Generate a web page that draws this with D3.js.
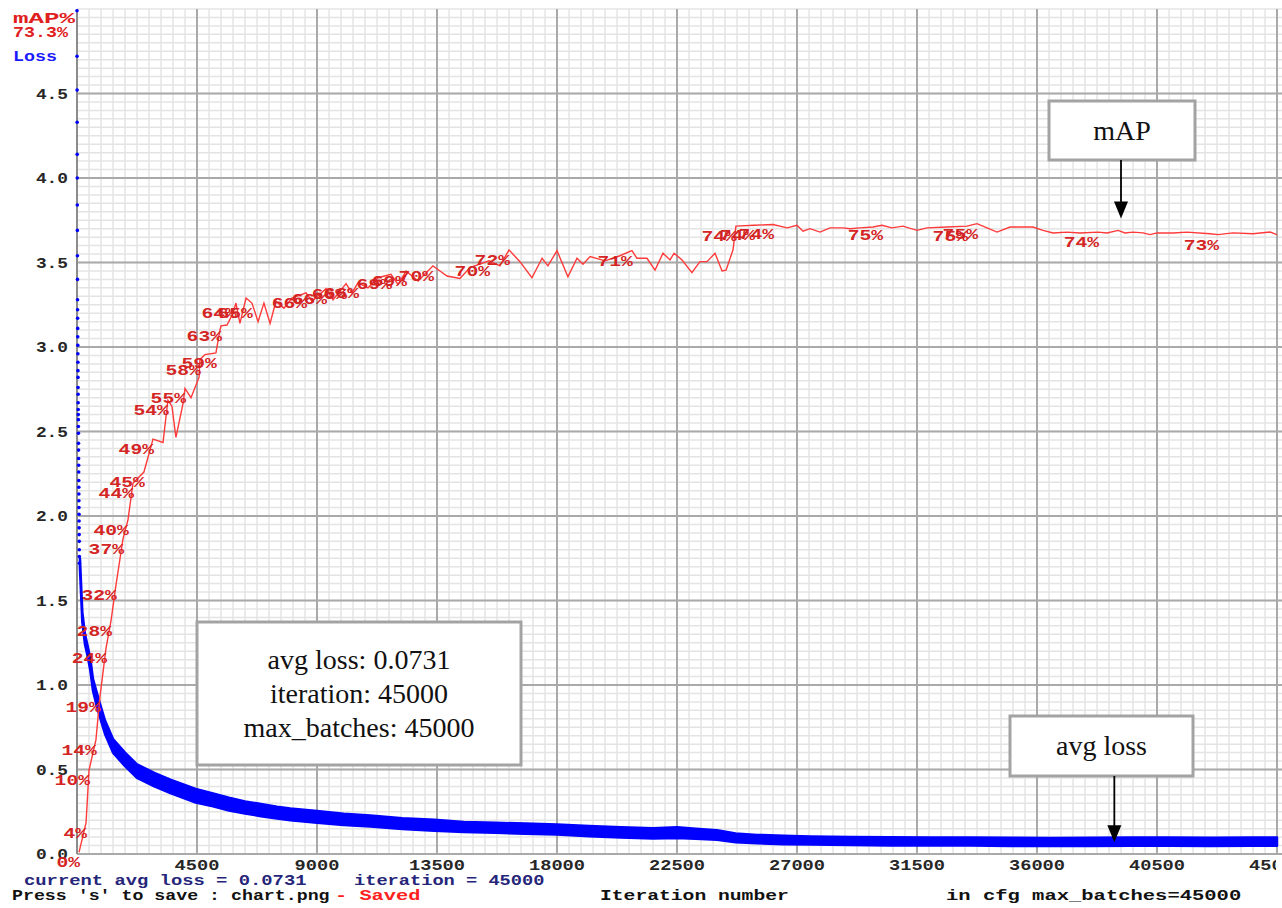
<!DOCTYPE html>
<html>
<head>
<meta charset="utf-8">
<script src="https://cdnjs.cloudflare.com/ajax/libs/d3/7.8.5/d3.min.js"></script>
<style>
  body { margin: 0; background: #fff; }
  svg { display: block; }
</style>
</head>
<body>
<div id="chart"></div>
<script>
// x / y ticks
var xTicks = [4500, 9000, 13500, 18000, 22500, 27000, 31500, 36000, 40500, 45000];
var yTicks = [0, 0.5, 1.0, 1.5, 2.0, 2.5, 3.0, 3.5, 4.0, 4.5];

// first iterations of loss, drawn as dots on the y axis
var startIter = [0, 2, 4, 6, 8, 10, 12, 14, 16, 18, 20, 22, 24, 26, 28, 30, 32, 34, 36, 38,
    40, 42, 44, 46, 48, 50, 52, 54, 56, 58, 60, 62, 64, 66, 68, 70, 72, 74, 76, 78,
    80, 82, 84, 86, 88, 90];
var startLoss = [4.99, 4.72, 4.52, 4.33, 4.14, 4.00, 3.84, 3.69, 3.54, 3.40,
    3.28, 3.22, 3.17, 3.11, 3.06, 3.01, 2.96, 2.91, 2.86, 2.82,
    2.76, 2.72, 2.67, 2.63, 2.60, 2.57, 2.53, 2.49, 2.43, 2.39,
    2.34, 2.30, 2.26, 2.21, 2.17, 2.13, 2.09, 2.05, 2.01, 1.97,
    1.93, 1.89, 1.85, 1.80, 1.76, 1.72];

// avg loss: centre of the noisy band and its half thickness
var lossIter = [110, 200, 300, 400, 500, 600, 750, 860, 1050, 1350,
    1800, 2250, 2900, 3500, 4450, 5100, 5700, 6300, 6900, 7500,
    8000, 9000, 10000, 11000, 12200, 13400, 14500, 15700, 16800, 18000,
    19200, 20400, 21600, 22500, 23200, 24000, 24700, 25500, 26500, 27500,
    29000, 30500, 32000, 33500, 35000, 36500, 38000, 39500, 41000, 42500,
    44000, 45000];
var lossVal = [1.72, 1.40, 1.27, 1.20, 1.12, 1.00, 0.91, 0.85, 0.75, 0.64,
    0.56, 0.49, 0.44, 0.40, 0.345, 0.32, 0.295, 0.275, 0.26, 0.245,
    0.235, 0.22, 0.205, 0.195, 0.18, 0.17, 0.16, 0.155, 0.15, 0.145,
    0.135, 0.128, 0.122, 0.126, 0.12, 0.112, 0.095, 0.088, 0.083, 0.08,
    0.077, 0.075, 0.074, 0.074, 0.072, 0.071, 0.072, 0.073, 0.073, 0.072,
    0.073, 0.0731];
var lossSpread = [0.03, 0.03, 0.03, 0.03, 0.035, 0.035, 0.04, 0.04, 0.04, 0.04,
    0.04, 0.04, 0.04, 0.04, 0.04, 0.038, 0.038, 0.036, 0.036, 0.035,
    0.035, 0.035, 0.033, 0.033, 0.032, 0.032, 0.03, 0.03, 0.03, 0.03,
    0.03, 0.03, 0.03, 0.032, 0.03, 0.028, 0.026, 0.025, 0.025, 0.024,
    0.024, 0.024, 0.024, 0.024, 0.024, 0.024, 0.024, 0.024, 0.024, 0.024,
    0.024, 0.024];

// mAP (%) at the iterations where it was calculated
var mapIter = [75, 340, 450, 710, 860, 1090, 1275, 1460, 1725, 1910,
    2100, 2510, 2850, 3225, 3410, 3560, 3710, 3975, 4050, 4275,
    4575, 4610, 4800, 5210, 5360, 5400, 5625, 5850, 5960, 6110,
    6340, 6560, 6790, 7010, 7240, 7460, 7760, 8060, 8590, 8810,
    9340, 9600, 10090, 10310, 10540, 10910, 11290, 11775, 12040, 12340,
    12790, 13350, 13610, 13875, 14360, 14740, 15450, 15860, 16200, 16610,
    17060, 17440, 17660, 18000, 18410, 18750, 18975, 19240, 19800, 20360,
    20810, 21000, 21375, 21675, 21975, 22240, 22390, 22690, 23060, 23360,
    23625, 23925, 24190, 24340, 24600, 24710, 25390, 26100, 26625, 27000,
    27225, 27490, 27860, 28240, 28725, 28990, 29360, 29850, 30190, 30560,
    30975, 31500, 31875, 32625, 33375, 33750, 34125, 34500, 34990, 35850,
    36225, 36600, 37125, 37610, 38290, 38625, 39040, 39300, 39600, 39975,
    40240, 40500, 41100, 41625, 42490, 42790, 43350, 44100, 44740, 45000];
var mapVal = [0.2, 3.7, 9.9, 13.5, 18.6, 24.4, 27.6, 31.8, 37.3, 39.5,
    43.9, 45.2, 49.1, 48.7, 53.7, 53.0, 49.3, 53.3, 55.1, 54.0,
    56.4, 58.5, 59.1, 59.3, 62.0, 62.5, 62.6, 64.0, 65.2, 62.8,
    65.8, 65.2, 63.0, 65.2, 62.8, 65.4, 64.6, 65.8, 66.4, 65.4,
    66.9, 65.6, 67.5, 66.4, 67.6, 67.0, 68.2, 68.6, 67.4, 69.0,
    67.8, 69.6, 69.0, 68.4, 68.1, 69.4, 70.2, 69.6, 71.5, 70.1,
    68.2, 70.5, 69.6, 71.4, 68.3, 70.5, 69.8, 70.7, 70.2, 70.8,
    71.4, 70.5, 70.5, 69.1, 71.1, 70.3, 71.1, 70.3, 68.8, 70.1,
    70.1, 71.1, 69.0, 69.1, 71.5, 74.3, 74.4, 74.5, 74.1, 74.4,
    73.7, 74.0, 73.6, 74.1, 74.1, 74.0, 74.1, 74.2, 74.4, 74.1,
    74.3, 73.8, 74.1, 74.2, 74.3, 74.6, 74.1, 73.6, 74.2, 74.2,
    73.8, 73.5, 73.6, 73.5, 73.6, 73.5, 73.8, 73.5, 73.6, 73.5,
    73.3, 73.5, 73.5, 73.6, 73.4, 73.3, 73.5, 73.4, 73.6, 73.3];

// percent labels printed next to some mAP points
var labelIter = [75, 340, 450, 710, 860, 1090, 1275, 1460, 1725, 1910,
    2100, 2510, 2850, 3410, 4050, 4610, 5210, 5400, 5960, 6560,
    8590, 9340, 10090, 10540, 11775, 12340, 13350, 15450, 16200, 20810,
    24710, 25390, 26100, 30190, 33375, 33750, 38290, 42790];
var labelText = ["0%", "4%", "10%", "14%", "19%", "24%", "28%", "32%", "37%", "40%",
    "44%", "45%", "49%", "54%", "55%", "58%", "59%", "63%", "64%", "65%",
    "66%", "66%", "66%", "66%", "69%", "69%", "70%", "70%", "72%", "71%",
    "74%", "74%", "74%", "75%", "75%", "75%", "74%", "73%"];

var maxBatches = 45000;

var width = 1282,
    height = 908;

var svg = d3.select("#chart")
    .append("svg")
    .attr("width", width)
    .attr("height", height);

svg.append("rect").attr("width", width).attr("height", height).attr("fill", "#fff");

var x = d3.scaleLinear().domain([0, maxBatches]).range([77, 1277]);
var yLoss = d3.scaleLinear().domain([0, 5]).range([854, 9]);
var yMap = d3.scaleLinear().domain([0, 100]).range([854, 9]);

var monoFont = "'Liberation Mono', 'DejaVu Sans Mono', monospace";

// bold wide mono text, stretched like the opencv font
function monoText(g, str, px, py, color, anchor, charW, size) {
    return g.append("text")
        .attr("x", px)
        .attr("y", py)
        .attr("text-anchor", anchor)
        .attr("fill", color)
        .attr("font-family", monoFont)
        .attr("font-weight", "bold")
        .attr("font-size", size)
        .attr("textLength", str.length * charW)
        .attr("lengthAdjust", "spacingAndGlyphs")
        .text(str);
}

// grid
var grid = svg.append("g");
grid.selectAll(".vmin")
    .data(d3.range(0, 101).map(i => i * 450))
    .enter().append("line")
    .attr("x1", d => x(d)).attr("x2", d => x(d))
    .attr("y1", yLoss(5)).attr("y2", yLoss(0))
    .attr("stroke", "#e4e4e4").attr("stroke-width", 1.5);
grid.selectAll(".hmin")
    .data(d3.range(0, 101).map(i => i * 0.05))
    .enter().append("line")
    .attr("x1", x(0)).attr("x2", width)
    .attr("y1", d => yLoss(d)).attr("y2", d => yLoss(d))
    .attr("stroke", "#e4e4e4").attr("stroke-width", 1.5);
grid.selectAll(".vmaj")
    .data(xTicks)
    .enter().append("line")
    .attr("x1", d => x(d)).attr("x2", d => x(d))
    .attr("y1", yLoss(5)).attr("y2", yLoss(0))
    .attr("stroke", "#a9a9a9").attr("stroke-width", 2);
grid.selectAll(".hmaj")
    .data(yTicks)
    .enter().append("line")
    .attr("x1", x(0)).attr("x2", width)
    .attr("y1", d => yLoss(d)).attr("y2", d => yLoss(d))
    .attr("stroke", "#a9a9a9").attr("stroke-width", 2);
grid.append("line")
    .attr("x1", x(0)).attr("x2", x(0))
    .attr("y1", yLoss(5)).attr("y2", yLoss(0))
    .attr("stroke", "#8c8c8c").attr("stroke-width", 2);

// tick labels
var ticks = svg.append("g");
yTicks.forEach(d => {
    monoText(ticks, d.toFixed(1), 68, yLoss(d) + 5, "#262626", "end", 10.7, 15);
});

svg.append("clipPath").attr("id", "xclip")
    .append("rect").attr("x", 0).attr("y", 0).attr("width", 1276).attr("height", height);
var xt = ticks.append("g").attr("clip-path", "url(#xclip)");
xTicks.forEach(d => {
    monoText(xt, String(d), x(d), 870, "#262626", "middle", 11.2, 15);
});

// loss
var lossData = lossIter.map((it, i) => ({ it: it, v: lossVal[i], s: lossSpread[i] }));
var band = d3.area()
    .x(d => x(d.it))
    .y0(d => yLoss(d.v - d.s))
    .y1(d => yLoss(d.v + d.s));
svg.append("path")
    .datum(lossData)
    .attr("d", band)
    .attr("fill", "#0000ff")
    .attr("stroke", "#0000ff")
    .attr("stroke-width", 2.5)
    .attr("stroke-linejoin", "round");

svg.selectAll(".dot")
    .data(startIter.map((it, i) => ({ it: it, v: startLoss[i] })))
    .enter().append("circle")
    .attr("cx", d => x(d.it))
    .attr("cy", d => yLoss(d.v))
    .attr("r", 1.8)
    .attr("fill", "#0000ff");

// mAP line
var mapData = mapIter.map((it, i) => ({ it: it, v: mapVal[i] }));
svg.append("path")
    .datum(mapData)
    .attr("d", d3.line().x(d => x(d.it)).y(d => yMap(d.v)))
    .attr("fill", "none")
    .attr("stroke", "#ff3a3a")
    .attr("stroke-width", 1.4);

var labs = svg.append("g");
labelIter.forEach((it, i) => {
    var v = mapVal[mapIter.indexOf(it)];
    monoText(labs, labelText[i], x(it) + 1, yMap(v) + 15, "#d42424", "end", 11.8, 15);
});

// legend texts top left
var lastMap = mapVal[mapVal.length - 1];
monoText(svg, "mAP%", 13, 23, "#e02020", "start", 15.5, 15);
monoText(svg, lastMap.toFixed(1) + "%", 13, 37, "#e02020", "start", 11, 15);
monoText(svg, "Loss", 13, 61, "#1a1aff", "start", 11, 15);

// bottom status lines
var lastLoss = lossVal[lossVal.length - 1];
var lastIter = lossIter[lossIter.length - 1];
monoText(svg, "current avg loss = " + lastLoss.toFixed(4), 24, 885, "#25257a", "start", 11.3, 15);
monoText(svg, "iteration = " + lastIter, 354, 885, "#25257a", "start", 11.2, 15);
monoText(svg, "Press 's' to save : chart.png", 12, 900, "#111", "start", 10.95, 15);
monoText(svg, "- Saved", 335, 900, "#ff2020", "start", 12.2, 15);
monoText(svg, "Iteration number", 600, 900, "#111", "start", 11.8, 15);
monoText(svg, "in cfg max_batches=" + maxBatches, 946, 900, "#111", "start", 12.3, 15);

// annotation boxes
var serif = "'Liberation Serif', 'Times New Roman', serif";
var notes = svg.append("g");

function noteBox(bx, by, bw, bh, lines, lineGap) {
    notes.append("rect")
        .attr("x", bx).attr("y", by).attr("width", bw).attr("height", bh)
        .attr("fill", "#fff").attr("stroke", "#a3a3a3").attr("stroke-width", 3);
    var top = by + bh / 2 - (lines.length - 1) * lineGap / 2 + 9;
    lines.forEach((t, i) => {
        notes.append("text")
            .attr("x", bx + bw / 2).attr("y", top + i * lineGap)
            .attr("text-anchor", "middle")
            .attr("font-family", serif)
            .attr("font-size", 28)
            .attr("fill", "#111")
            .text(t);
    });
}

function arrow(ax, y0, y1) {
    notes.append("line")
        .attr("x1", ax).attr("x2", ax).attr("y1", y0).attr("y2", y1 - 14)
        .attr("stroke", "#000").attr("stroke-width", 1.8);
    notes.append("path")
        .attr("d", "M" + (ax - 7) + "," + (y1 - 17) + "L" + (ax + 7) + "," + (y1 - 17) + "L" + ax + "," + y1 + "Z")
        .attr("fill", "#000");
}

noteBox(197, 622, 324, 143, [
    "avg loss: " + lastLoss.toFixed(4),
    "iteration: " + lastIter,
    "max_batches: " + maxBatches
], 34);

noteBox(1049, 101, 146, 59, ["mAP"], 0);
arrow(x(39150), 160, yMap(75.2));

noteBox(1010, 716, 183, 60, ["avg loss"], 0);
arrow(x(38900), 776, yLoss(0.07));
</script>
</body>
</html>
